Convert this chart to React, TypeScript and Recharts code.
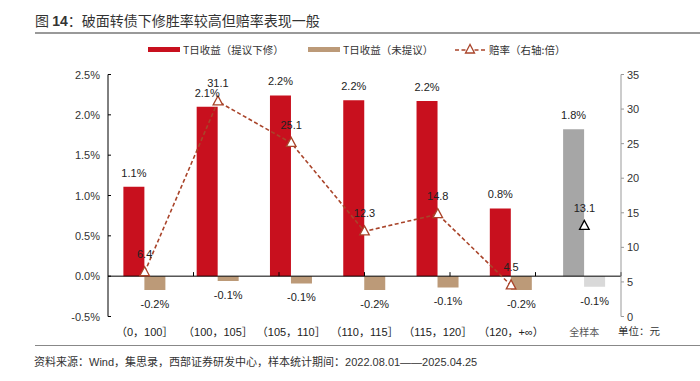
import React from "react";
import {
  ComposedChart,
  Bar,
  Line,
  XAxis,
  YAxis,
  ReferenceLine,
  LabelList,
  Cell,
} from "recharts";

const categories = [
  "（0，100］",
  "（100，105］",
  "（105，110］",
  "（110，115］",
  "（115，120］",
  "（120，+∞）",
  "全样本",
];
const proposedReturn = [1.11, 2.1, 2.24, 2.18, 2.17, 0.84, 1.82];
const notProposedReturn = [-0.17, -0.06, -0.09, -0.17, -0.14, -0.17, -0.13];
const oddsRatio: (number | null)[] = [6.4, 31.1, 25.1, 12.3, 14.8, 4.5, null];
const oddsAll: (number | null)[] = [null, null, null, null, null, null, 13.1];
const leftTicks = [-0.5, 0, 0.5, 1, 1.5, 2, 2.5];
const rightTicks = [0, 5, 10, 15, 20, 25, 30, 35];
const boundaryTicks = [1, 2, 3, 4, 5, 6];

const RED = "#C8101E";
const TAN = "#BC9A78";
const GRAY = "#A6A6A6";
const LIGHT = "#D9D9D9";
const LINE = "#A9442A";
const LATIN = "'Liberation Sans', Arial, 'Noto Sans CJK SC', sans-serif";
const CJK = "'Noto Sans CJK SC', 'Liberation Sans', sans-serif";

const data = categories.map((c, i) => ({
  cat: c,
  proposed: proposedReturn[i],
  notProposed: notProposedReturn[i],
  odds: oddsRatio[i],
  oddsAll: oddsAll[i],
}));

const lastIndex = categories.length - 1;

const LeftTick = (props: any) => {
  const { x, y, payload } = props;
  return (
    <g>
      <text
        x={x}
        y={y}
        textAnchor="end"
        dominantBaseline="central"
        fontSize={11}
        fill="#333"
        fontFamily={LATIN}
      >
        {Number(payload.value).toFixed(1) + "%"}
      </text>
      <line x1={x + 8} x2={x + 11} y1={y} y2={y} stroke="#000" strokeWidth={1} />
    </g>
  );
};

const RightTick = (props: any) => {
  const { x, y, payload } = props;
  return (
    <text
      x={x}
      y={y}
      textAnchor="start"
      dominantBaseline="central"
      fontSize={11}
      fill="#333"
      fontFamily={LATIN}
    >
      {payload.value}
    </text>
  );
};

const CatTick = (props: any) => {
  const { x, y, payload, index } = props;
  const isAll = index === lastIndex;
  return (
    <text
      x={x}
      y={y + 15}
      textAnchor="middle"
      dominantBaseline="central"
      fontSize={isAll ? 10 : 11}
      fill={isAll ? "#555" : "#222"}
      fontFamily={isAll ? CJK : LATIN}
    >
      {payload.value}
    </text>
  );
};

const Triangle = (props: any) => {
  const { cx, cy, stroke, index } = props;
  if (cx == null || cy == null || props.value == null) return <g key={"t" + index} />;
  const pts = `${cx},${cy - 5.5} ${cx - 4.8},${cy + 3.5} ${cx + 4.8},${cy + 3.5}`;
  return (
    <polygon
      key={"t" + index}
      points={pts}
      fill="#fff"
      stroke={stroke}
      strokeWidth={1.3}
    />
  );
};

const TopLabel = (offset: number, fmt: (v: number) => string) => (props: any) => {
  const { x, y, width, value } = props;
  if (value == null) return null;
  const cx = width != null ? x + width / 2 : x;
  return (
    <text
      x={cx}
      y={y - offset}
      textAnchor="middle"
      fontSize={11}
      fill="#222"
      fontFamily={LATIN}
    >
      {fmt(value)}
    </text>
  );
};

const NegLabel = (props: any) => {
  const { x, y, width, height, value } = props;
  if (value == null) return null;
  const bottom = Math.max(y, y + height);
  return (
    <text
      x={x + width / 2}
      y={bottom + 14}
      textAnchor="middle"
      dominantBaseline="central"
      fontSize={11}
      fill="#222"
      fontFamily={LATIN}
    >
      {Number(value).toFixed(1) + "%"}
    </text>
  );
};

const LegendItem = ({ left, children }: any) => (
  <div style={{ position: "absolute", left, top: 41, height: 16, display: "flex", alignItems: "center" }}>
    {children}
  </div>
);

export default function App() {
  return (
    <div
      style={{
        position: "fixed",
        left: 0,
        top: 0,
        width: 700,
        height: 381,
        background: "#fff",
        overflow: "hidden",
      }}
    >
      <div
        style={{
          position: "absolute",
          left: 35,
          top: 11,
          fontSize: 14,
          color: "#333",
          fontFamily: CJK,
          whiteSpace: "nowrap",
          lineHeight: "18px",
        }}
      >
        图 <span style={{ fontFamily: LATIN, fontWeight: "bold" }}>14</span>：破面转债下修胜率较高但赔率表现一般
      </div>
      <div style={{ position: "absolute", left: 35, top: 32, width: 665, height: 2, background: "#999" }} />

      <LegendItem left={148}>
        <div style={{ width: 32, height: 5, background: RED, marginRight: 3 }} />
        <span style={{ fontSize: 10.5, color: "#333", fontFamily: CJK }}>T日收益（提议下修）</span>
      </LegendItem>
      <LegendItem left={308}>
        <div style={{ width: 32, height: 5, background: TAN, marginRight: 3 }} />
        <span style={{ fontSize: 10.5, color: "#333", fontFamily: CJK }}>T日收益（未提议）</span>
      </LegendItem>
      <LegendItem left={455}>
        <svg width={30} height={12} style={{ marginRight: 4 }}>
          <line x1={0} x2={30} y1={7} y2={7} stroke={LINE} strokeWidth={1.5} strokeDasharray="4 2.5" />
          <polygon points="15,1.5 10.5,10 19.5,10" fill="#fff" stroke={LINE} strokeWidth={1.3} />
        </svg>
        <span style={{ fontSize: 10.5, color: "#333", fontFamily: CJK }}>赔率（右轴:倍）</span>
      </LegendItem>

      <div style={{ position: "absolute", left: 0, top: 0 }}>
        <ComposedChart
          width={700}
          height={381}
          data={data}
          margin={{ top: 74.5, right: 40, bottom: 34.5, left: 58 }}
          barCategoryGap="21%"
          barGap={0}
        >
          <XAxis
            dataKey="cat"
            height={30}
            axisLine={false}
            tickLine={false}
            tickSize={0}
            tickMargin={0}
            interval={0}
            tick={<CatTick />}
          />
          <XAxis xAxisId="num" type="number" domain={[0, 7]} hide allowDataOverflow />
          <YAxis
            yAxisId="left"
            domain={[-0.5, 2.5]}
            ticks={leftTicks}
            width={50}
            tickSize={0}
            tickMargin={8}
            axisLine={{ stroke: "#000", strokeWidth: 1 }}
            tickLine={false}
            tick={<LeftTick />}
            allowDataOverflow
          />
          <YAxis
            yAxisId="right"
            orientation="right"
            domain={[0, 35]}
            ticks={rightTicks}
            width={39}
            tickSize={3}
            tickMargin={3}
            axisLine={{ stroke: "#999", strokeWidth: 1 }}
            tickLine={{ stroke: "#999" }}
            tick={<RightTick />}
            allowDataOverflow
          />
          <Bar yAxisId="left" dataKey="proposed" isAnimationActive={false}>
            {data.map((d, i) => (
              <Cell key={"p" + i} fill={i === lastIndex ? GRAY : RED} />
            ))}
            <LabelList dataKey="proposed" content={TopLabel(10, (v) => v.toFixed(1) + "%")} />
          </Bar>
          <Bar yAxisId="left" dataKey="notProposed" isAnimationActive={false}>
            {data.map((d, i) => (
              <Cell key={"n" + i} fill={i === lastIndex ? LIGHT : TAN} />
            ))}
            <LabelList dataKey="notProposed" content={NegLabel} />
          </Bar>
          <ReferenceLine yAxisId="left" y={0} stroke="#000" strokeWidth={1} />
          {boundaryTicks.map((b) => (
            <ReferenceLine
              key={"b" + b}
              xAxisId="num"
              yAxisId="left"
              segment={[
                { x: b, y: 0 },
                { x: b, y: 0.05 },
              ]}
              stroke="#000"
              strokeWidth={1}
            />
          ))}
          <Line
            yAxisId="right"
            dataKey="odds"
            stroke={LINE}
            strokeWidth={1.6}
            strokeDasharray="4 2.5"
            dot={(p: any) => <Triangle {...p} stroke={LINE} />}
            activeDot={false}
            isAnimationActive={false}
            connectNulls={false}
          >
            <LabelList dataKey="odds" content={TopLabel(14, (v) => v.toFixed(1))} />
          </Line>
          <Line
            yAxisId="right"
            dataKey="oddsAll"
            stroke="none"
            dot={(p: any) => <Triangle {...p} stroke="#000" />}
            activeDot={false}
            isAnimationActive={false}
          >
            <LabelList dataKey="oddsAll" content={TopLabel(14, (v) => v.toFixed(1))} />
          </Line>
        </ComposedChart>
      </div>

      <div
        style={{
          position: "absolute",
          left: 618,
          top: 323,
          fontSize: 10.5,
          color: "#333",
          fontFamily: CJK,
          whiteSpace: "nowrap",
          lineHeight: "16px",
        }}
      >
        单位：元
      </div>

      <div style={{ position: "absolute", left: 35, top: 345, width: 665, height: 1, background: "#888" }} />
      <div
        style={{
          position: "absolute",
          left: 34,
          top: 353,
          fontSize: 11,
          color: "#333",
          fontFamily: CJK,
          whiteSpace: "nowrap",
          lineHeight: "16px",
        }}
      >
        资料来源：<span style={{ fontFamily: LATIN }}>Wind</span>，集思录，西部证券研发中心，样本统计期间：
        <span style={{ fontFamily: LATIN }}>2022.08.01——2025.04.25</span>
      </div>
    </div>
  );
}
